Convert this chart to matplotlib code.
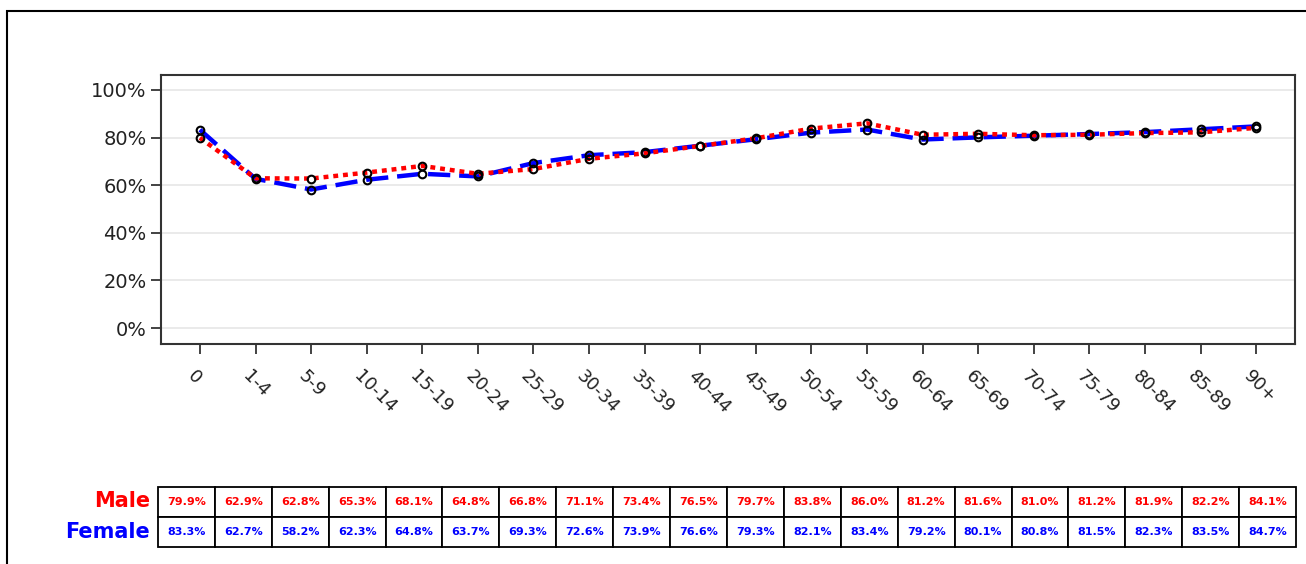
import matplotlib
matplotlib.use("Agg")
import matplotlib.pyplot as plt
from matplotlib.patches import Rectangle
from matplotlib.transforms import ScaledTranslation

# Datos
grupos = ["0", "1-4", "5-9", "10-14", "15-19", "20-24", "25-29", "30-34", "35-39",
          "40-44", "45-49", "50-54", "55-59", "60-64", "65-69", "70-74", "75-79",
          "80-84", "85-89", "90+"]
male = [79.9, 62.9, 62.8, 65.3, 68.1, 64.8, 66.8, 71.1, 73.4, 76.5,
        79.7, 83.8, 86.0, 81.2, 81.6, 81.0, 81.2, 81.9, 82.2, 84.1]
female = [83.3, 62.7, 58.2, 62.3, 64.8, 63.7, 69.3, 72.6, 73.9, 76.6,
          79.3, 82.1, 83.4, 79.2, 80.1, 80.8, 81.5, 82.3, 83.5, 84.7]
series = ["Male", "Female"]
colores = {"Male": "#FF0000", "Female": "#0000FF"}

plt.rcParams["font.family"] = ["DejaVu Sans"]

W, H = 1306, 564
fig = plt.figure(figsize=(W / 100, H / 100), dpi=100)

# marco exterior
fig.patches.append(Rectangle((7 / W, -0.2), 2, 1.2 - 11 / H, transform=fig.transFigure,
                             fill=False, edgecolor="black", lw=1.5))

ax = fig.add_axes([161 / W, 1 - 344 / H, (1295 - 161) / W, (344 - 75) / H])
x = list(range(len(grupos)))

ax.plot(x, female, color=colores["Female"], lw=3.2, linestyle=(0, (5, 2)), zorder=3)
ax.plot(x, male, color=colores["Male"], lw=3.2, linestyle=(0, (1.1, 1.1)), zorder=4)
ax.plot(x, female, linestyle="none", marker="o", ms=5.5, mfc="none", mec="black", mew=1.5, zorder=5)
ax.plot(x, male, linestyle="none", marker="o", ms=5.5, mfc="none", mec="black", mew=1.5, zorder=5)

ax.set_xlim(-0.70, len(grupos) - 1 + 0.70)
ax.set_ylim(-6.7, 106.3)
ax.set_yticks([0, 20, 40, 60, 80, 100])
ax.set_yticklabels([f"{v}%" for v in [0, 20, 40, 60, 80, 100]], fontsize=14, color="#222222")
ax.set_xticks(x)
ax.set_xticklabels([])
# etiquetas del eje x giradas, un poco a la izquierda de cada marca
desplaza = ScaledTranslation(-10 / 100, -29 / 100, fig.dpi_scale_trans)
for i, g in zip(x, grupos):
    ax.text(i, 0, g, transform=ax.get_xaxis_transform() + desplaza, fontsize=13,
            color="#222222", rotation=-45, ha="left", va="center",
            rotation_mode="anchor", clip_on=False)
ax.tick_params(axis="both", direction="out", length=7.5, width=1.2, color="#222222")
ax.tick_params(axis="y", pad=3)
ax.grid(axis="y", color="#e6e6e6", lw=1.2, zorder=0)
ax.set_axisbelow(True)
for s in ax.spines.values():
    s.set_linewidth(1.5)
    s.set_color("#333333")

# tabla
tax = fig.add_axes([158 / W, 1 - 547 / H, (1296 - 158) / W, 60 / H])
tax.axis("off")
tabla = tax.table(cellText=[[f"{v:.1f}%" for v in male], [f"{v:.1f}%" for v in female]],
                  cellLoc="center", bbox=[0, 0, 1, 1])
tabla.auto_set_font_size(False)
for (r, c), cell in tabla.get_celld().items():
    cell.set_linewidth(1.3)
    cell.set_edgecolor("black")
    t = cell.get_text()
    t.set_fontsize(8)
    t.set_fontweight("bold")
    t.set_color(colores[series[r]])

fig.text(150 / W, 1 - 501 / H, "Male", color=colores["Male"], fontsize=15,
         fontweight="bold", ha="right", va="center")
fig.text(150 / W, 1 - 532 / H, "Female", color=colores["Female"], fontsize=15,
         fontweight="bold", ha="right", va="center")

fig.savefig("out.png", dpi=100)
